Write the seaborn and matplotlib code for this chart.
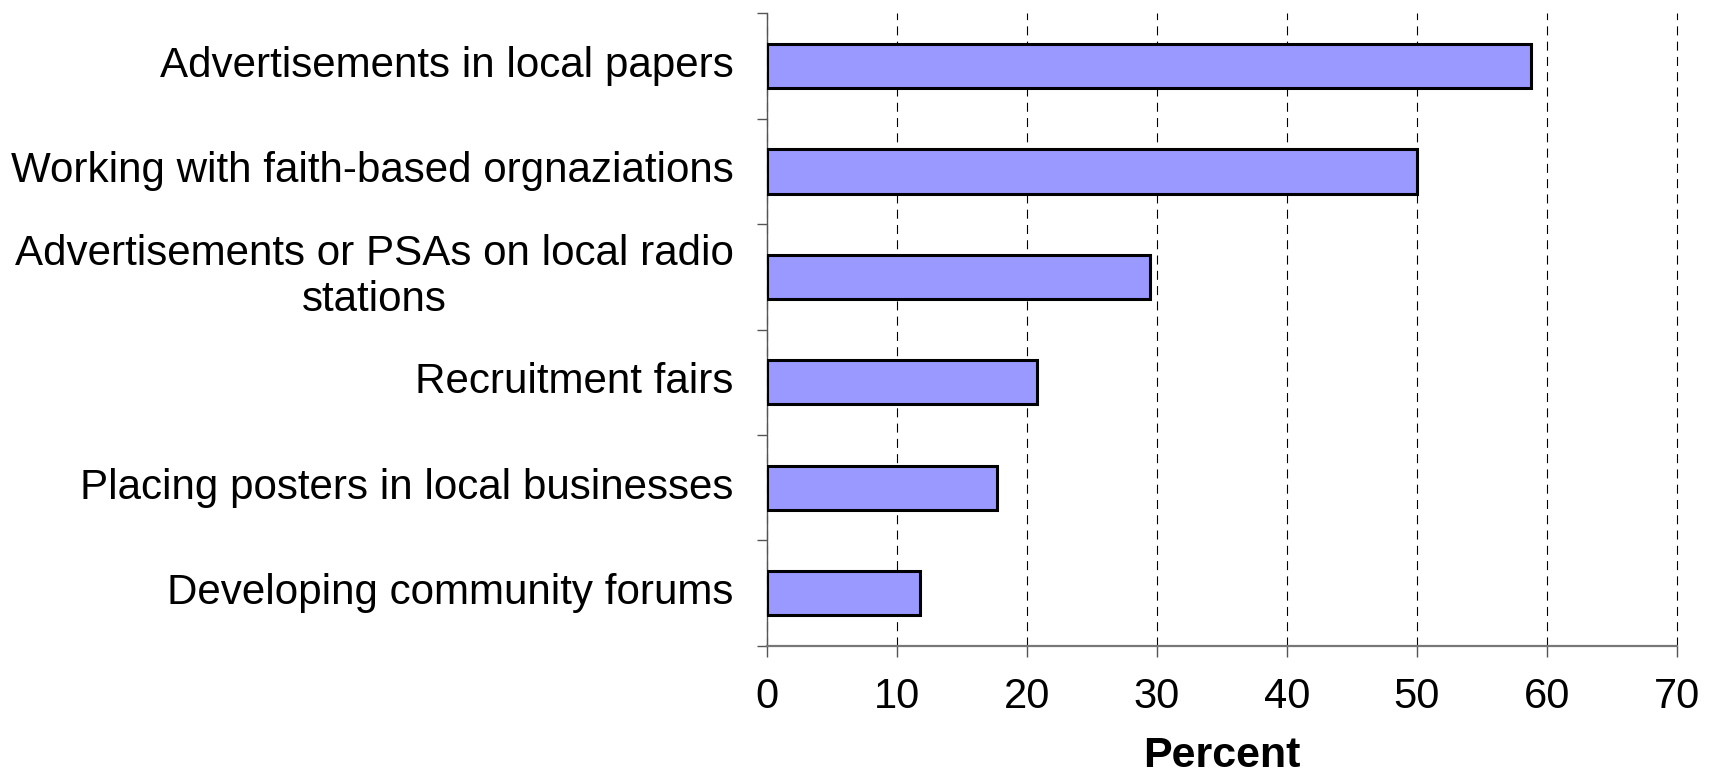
import matplotlib
matplotlib.use("Agg")
import matplotlib.pyplot as plt
import seaborn as sns
import pandas as pd

# Recruitment methods and share of respondents using each (percent)
categories = [
    "Advertisements in local papers",
    "Working with faith-based orgnaziations",
    "Advertisements or PSAs on local radio\nstations",
    "Recruitment fairs",
    "Placing posters in local businesses",
    "Developing community forums",
]
percent = [58.8, 50.0, 29.5, 20.8, 17.7, 11.8]
x_ticks = [0, 10, 20, 30, 40, 50, 60, 70]

sns.set_theme(style="white")
plt.rcParams["font.family"] = ["Liberation Sans", "DejaVu Sans"]
plt.rcParams["lines.scale_dashes"] = False

df = pd.DataFrame({"method": categories, "percent": percent})

fig = plt.figure(figsize=(17.18, 7.75), dpi=100)
ax = fig.add_axes([0.4465, 0.1665, 0.976 - 0.4465, 0.983 - 0.1665])

sns.barplot(
    data=df, x="percent", y="method", orient="h", ax=ax,
    color="#9999FF", saturation=1, edgecolor="black", linewidth=2.2,
    width=0.42, zorder=3,
)

ax.set_xlim(0, 70)
ax.set_ylim(len(categories) - 0.5, -0.5)
ax.set_xticks(x_ticks)
ax.set_xticklabels([str(t) for t in x_ticks], fontsize=30)
ax.xaxis.grid(True, color="black", linestyle=(0, (6.5, 4.5)), linewidth=0.8, zorder=0)
for gl in ax.get_xgridlines():
    gl.set_clip_on(False)
ax.yaxis.grid(False)

# category labels at bar centres, tick marks at category boundaries
ax.set_yticks(range(len(categories)))
ax.set_yticklabels(categories, fontsize=30.3, multialignment="center",
                   linespacing=1.2, va="center")
ax.set_yticks([i - 0.5 for i in range(len(categories) + 1)], minor=True)
ax.tick_params(axis="y", which="major", length=0, pad=24, colors="black")
ax.tick_params(axis="y", which="minor", length=7, width=1, color="#555555", left=True)
ax.tick_params(axis="x", which="major", length=8, width=1, color="#555555",
               bottom=True, pad=14, labelcolor="black")

for side in ("top", "right"):
    ax.spines[side].set_visible(False)
ax.spines["left"].set_color("#555555")
ax.spines["left"].set_linewidth(1.0)
ax.spines["bottom"].set_color("#777777")
ax.spines["bottom"].set_linewidth(1.6)

ax.set_ylabel("")
ax.set_xlabel("Percent", fontsize=31, fontweight="bold", labelpad=14, color="black")

fig.savefig("out.png", dpi=100)
